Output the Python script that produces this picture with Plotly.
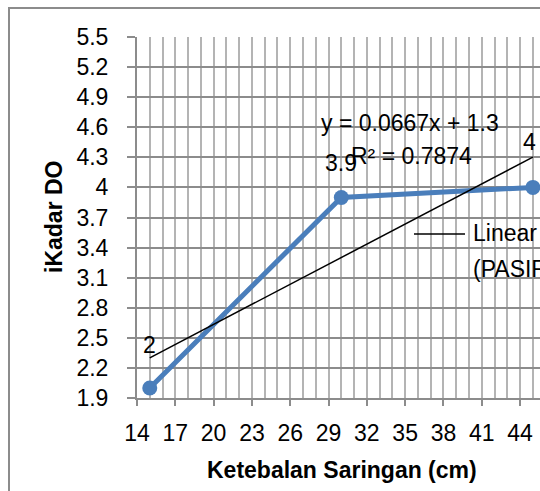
import plotly.graph_objects as go

# data
thickness = [15, 30, 45]
kadar_do = [2, 3.9, 4]
labels = ["2", "3.9", "4"]
slope = 0.0667
intercept = 1.3
r2 = 0.7874
series_name = "PASIR"

W, H = 540, 491
L, T, B = 137, 37, 93
PX_PER_X = 12.77
x0 = 14
x1 = x0 + (W - L) / PX_PER_X

FONT = "Liberation Sans"
BLUE = "#4A7EBB"

fig = go.Figure()
fig.add_trace(go.Scatter(
    x=thickness, y=kadar_do, mode="lines+markers", name=series_name,
    line=dict(color=BLUE, width=5), marker=dict(color=BLUE, size=15),
    showlegend=False, cliponaxis=False))
tx = [min(thickness), max(thickness)]
fig.add_trace(go.Scatter(
    x=tx, y=[slope * v + intercept for v in tx], mode="lines",
    name="Linear (" + series_name + ")",
    line=dict(color="black", width=1.5), showlegend=False))

ann = []
shifts = [(0, 43), (0, 34), (-3, 45)]
for xv, yv, t, (dx, dy) in zip(thickness, kadar_do, labels, shifts):
    ann.append(dict(x=xv, y=yv, text=t, showarrow=False, xshift=dx, yshift=dy,
                    xanchor="center", yanchor="middle",
                    font=dict(family=FONT, size=23, color="black")))

def px2paper(px, py):
    return (px - L) / (W - L), (H - B - py) / (H - B - T)

def pann(px, py, text, size=22, xanchor="center", **kw):
    x, y = px2paper(px, py)
    d = dict(x=x, y=y, xref="paper", yref="paper", text=text, showarrow=False,
             xanchor=xanchor, yanchor="middle",
             font=dict(family=FONT, size=size, color="black"))
    d.update(kw)
    return d

ann.append(pann(410, 123, f"y = {slope}x + {intercept}", 23))
ann.append(pann(411, 156, f"R² = {r2}", 23))
ann.append(pann(471, 233, "Linear", 23, xanchor="left"))
ann.append(pann(471, 269, "(" + series_name + ")", 23, xanchor="left"))
ann.append(pann(342, 470, "<b>Ketebalan Saringan (cm)</b>", 23))
ann.append(pann(54, 217, "<b>iKadar DO</b>", 23, textangle=-90))

shapes = []
a, b = px2paper(414, 234)
c, d = px2paper(465, 234)
shapes.append(dict(type="line", xref="paper", yref="paper", x0=a, y0=b, x1=c, y1=d,
                   line=dict(color="black", width=1.5)))
a, b = px2paper(9, 8)
c, d = px2paper(620, 620)
shapes.append(dict(type="rect", xref="paper", yref="paper", x0=a, y0=b, x1=c, y1=d,
                   line=dict(color="#8C8C8C", width=2), layer="below"))

fig.update_layout(
    width=W, height=H, margin=dict(l=L, r=0, t=T, b=B),
    paper_bgcolor="white", plot_bgcolor="white",
    annotations=ann, shapes=shapes,
    font=dict(family=FONT, size=23, color="black"),
    xaxis=dict(range=[x0, x1], tick0=14, dtick=3, showgrid=True,
               gridcolor="#B4B4B4", gridwidth=1.5,
               minor=dict(dtick=1, tick0=14, showgrid=True, gridcolor="#B4B4B4", gridwidth=1.5),
               showline=True, linecolor="#8C8C8C", linewidth=2,
               ticks="outside", ticklen=6, tickcolor="#8C8C8C", tickwidth=2,
               ticklabelstandoff=7, zeroline=False,
               tickfont=dict(family=FONT, size=23)),
    yaxis=dict(range=[1.9, 5.5], tick0=1.9, dtick=0.3, showgrid=True,
               gridcolor="#8C8C8C", gridwidth=2,
               showline=True, linecolor="#8C8C8C", linewidth=2,
               ticks="outside", ticklen=8, tickcolor="#8C8C8C", tickwidth=2,
               ticklabelstandoff=14, zeroline=False,
               tickformat="~g",
               tickfont=dict(family=FONT, size=23)),
)
fig.write_html("out.html")
